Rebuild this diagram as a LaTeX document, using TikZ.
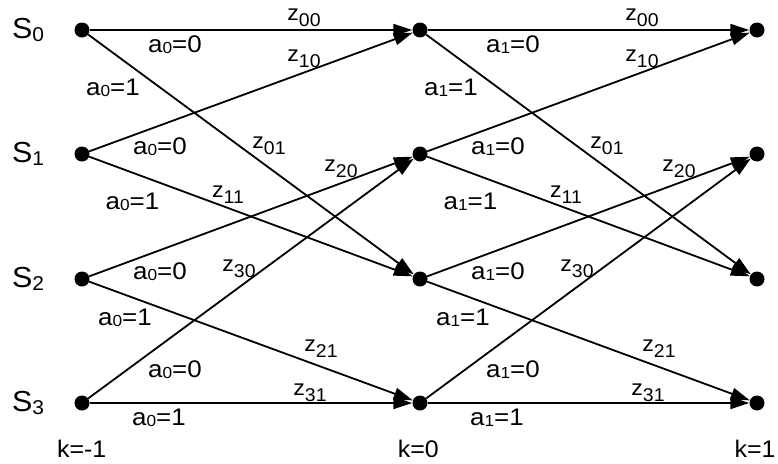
\documentclass[tikz,border=0pt]{standalone}
\usepackage{fontspec}
\usepackage{graphicx}
\setmainfont{Liberation Sans}
\usetikzlibrary{arrows.meta}
\newcommand\alab[2]{\scalebox{1.08}[1]{\fontsize{24}{24}\selectfont a\raisebox{-1pt}{\fontsize{16}{16}\selectfont #1}=#2}}
\newcommand\zlab[1]{\scalebox{1.05}[1]{\fontsize{22}{22}\selectfont z\raisebox{-6pt}{\fontsize{18.5}{18.5}\selectfont #1}}}
\newcommand\slab[1]{\scalebox{1.05}[1]{\fontsize{29}{29}\selectfont S\raisebox{-3pt}{\fontsize{20}{20}\selectfont #1}}}
\newcommand\klab[1]{\scalebox{1.04}[1]{\fontsize{24}{24}\selectfont k=#1}}
\begin{document}
\begin{tikzpicture}[x=1pt,y=-1pt,
  dot/.style={circle,fill=black,inner sep=0pt,minimum size=15pt},
  edge/.style={line width=1.8pt,-{Triangle[length=19pt,width=12pt]}},
  lbl/.style={anchor=base,inner sep=0pt},
]
\useasboundingbox (0,0) rectangle (778,463);
% dots
\foreach \r/\y in {0/30,1/154,2/279,3/403}{
  \node[dot] (a\r) at (82,\y) {};
  \node[dot] (b\r) at (420,\y) {};
  \node[dot] (c\r) at (757,\y) {};
}
% state labels
\node[lbl] (s0) at (28,38.5) {\slab{0}};
\node[lbl] (s1) at (28,162.5) {\slab{1}};
\node[lbl] (s2) at (28,287.5) {\slab{2}};
\node[lbl] (s3) at (28,411.5) {\slab{3}};
% edges
\foreach \p/\q in {a/b,b/c}{
  \draw[edge] (\p0) -- (\q0);
  \draw[edge] (\p0) -- (\q2);
  \draw[edge] (\p1) -- (\q0);
  \draw[edge] (\p1) -- (\q2);
  \draw[edge] (\p2) -- (\q1);
  \draw[edge] (\p2) -- (\q3);
  \draw[edge] (\p3) -- (\q1);
  \draw[edge] (\p3) -- (\q3);
}
% branch labels
\foreach \c/\dx in {0/0,1/338}{
  \node[lbl] (z00\c) at (\dx+304,20) {\zlab{00}};
  \node[lbl] (z10\c) at (\dx+304,61.7) {\zlab{10}};
  \node[lbl] (z01\c) at (\dx+269,148.3) {\zlab{01}};
  \node[lbl] (z20\c) at (\dx+341,171) {\zlab{20}};
  \node[lbl] (z11\c) at (\dx+228,197.5) {\zlab{11}};
  \node[lbl] (z30\c) at (\dx+239,271.7) {\zlab{30}};
  \node[lbl] (z21\c) at (\dx+321,351.7) {\zlab{21}};
  \node[lbl] (z31\c) at (\dx+310,395) {\zlab{31}};
  \node[lbl] (l00\c) at (\dx+175,52.5) {\alab{\c}{0}};
  \node[lbl] (l01\c) at (\dx+113,95.5) {\alab{\c}{1}};
  \node[lbl] (l10\c) at (\dx+160,154) {\alab{\c}{0}};
  \node[lbl] (l11\c) at (\dx+132.5,209) {\alab{\c}{1}};
  \node[lbl] (l20\c) at (\dx+160,279) {\alab{\c}{0}};
  \node[lbl] (l21\c) at (\dx+125,325.5) {\alab{\c}{1}};
  \node[lbl] (l30\c) at (\dx+175,377.5) {\alab{\c}{0}};
  \node[lbl] (l31\c) at (\dx+159,425.5) {\alab{\c}{1}};
}
% time labels
\node[lbl] (k0) at (81.7,457) {\klab{-1}};
\node[lbl] (k1) at (418.3,457) {\klab{0}};
\node[lbl] (k2) at (755,457) {\klab{1}};
\end{tikzpicture}
\end{document}
